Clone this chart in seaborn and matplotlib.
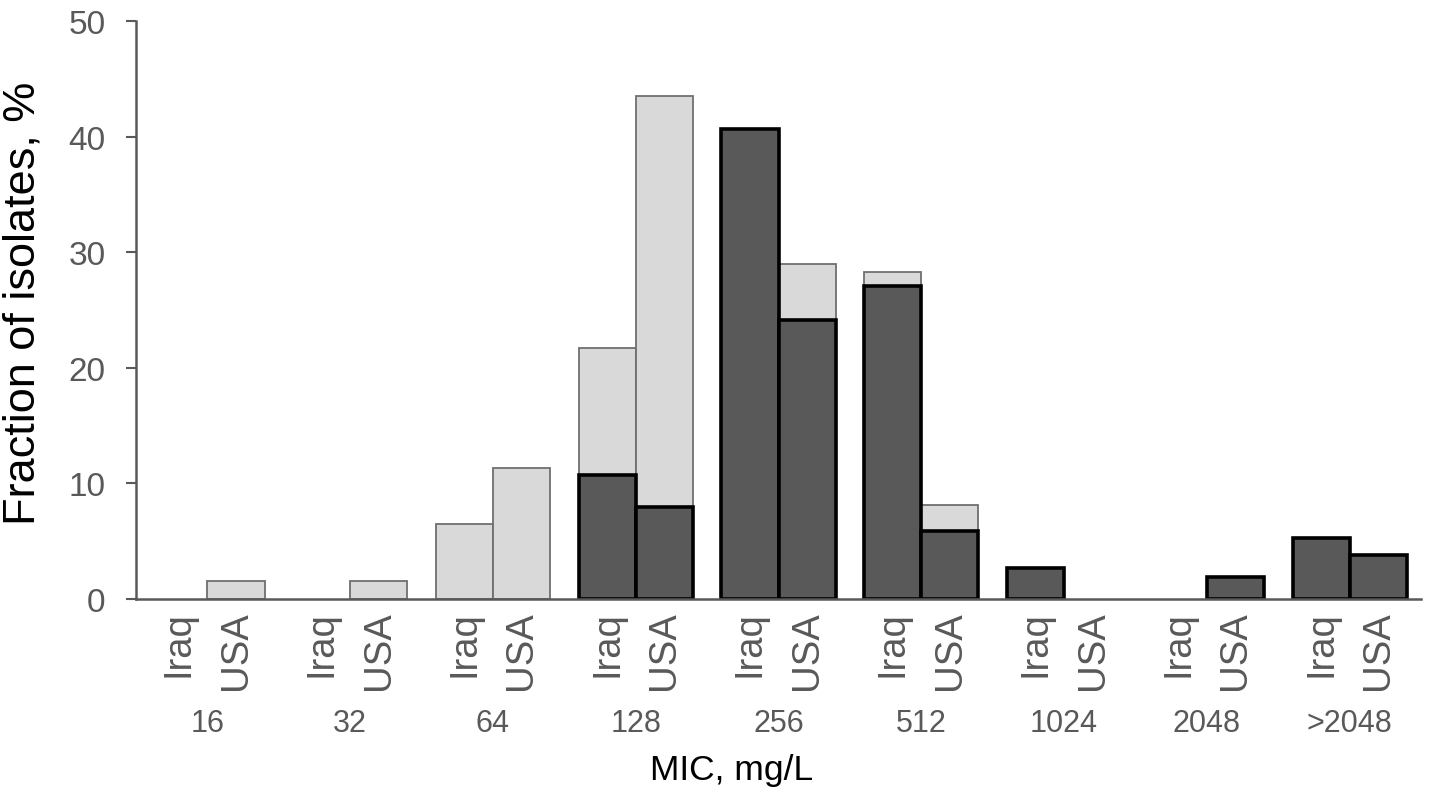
import pandas as pd
import matplotlib
matplotlib.use("Agg")
import matplotlib.pyplot as plt
import seaborn as sns

# MIC groups and country split
mic_levels = ["16", "32", "64", "128", "256", "512", "1024", "2048", ">2048"]
countries = ["Iraq", "USA"]

# light grey series (drawn behind)
light_iraq = [0, 0, 6.5, 21.7, 37.0, 28.3, 0, 0, 0]
light_usa = [1.6, 1.6, 11.3, 43.5, 29.0, 8.1, 0, 0, 0]
# dark grey series (drawn in front)
dark_iraq = [0, 0, 0, 10.7, 40.7, 27.1, 2.7, 0, 5.3]
dark_usa = [0, 0, 0, 8.0, 24.1, 5.9, 0, 1.9, 3.8]

y_ticks = [0, 10, 20, 30, 40, 50]


def long_table(iraq, usa):
    rows = []
    for m, a, b in zip(mic_levels, iraq, usa):
        rows.append({"mic": m, "country": "Iraq", "value": a})
        rows.append({"mic": m, "country": "USA", "value": b})
    df = pd.DataFrame(rows)
    # zero bars are not drawn in the original
    return df[df["value"] > 0]


light_df = long_table(light_iraq, light_usa)
dark_df = long_table(dark_iraq, dark_usa)

sns.set_theme(style="white")
plt.rcParams["font.family"] = ["Liberation Sans", "DejaVu Sans"]

grey_text = "#595959"

fig = plt.figure(figsize=(14.29, 8.03), dpi=100)
W, H = 1429, 803
left, right, top, bottom = 136, 1421, 22, 600
ax = fig.add_axes([left / W, 1 - bottom / H, (right - left) / W, (bottom - top) / H])

sns.barplot(data=light_df, x="mic", y="value", hue="country",
            order=mic_levels, hue_order=countries,
            palette={"Iraq": "#d9d9d9", "USA": "#d9d9d9"},
            edgecolor="#6f6f6f", linewidth=1.3, width=0.8,
            errorbar=None, legend=False, ax=ax)
sns.barplot(data=dark_df, x="mic", y="value", hue="country",
            order=mic_levels, hue_order=countries,
            palette={"Iraq": "#595959", "USA": "#595959"},
            edgecolor="black", linewidth=2.6, width=0.8,
            errorbar=None, legend=False, ax=ax)

ax.set_xlim(-0.5, len(mic_levels) - 0.5)
ax.set_ylim(0, 50)
ax.set_yticks(y_ticks)
ax.tick_params(axis="y", labelsize=24, labelcolor=grey_text, color=grey_text,
               direction="out", length=7, width=1.5, pad=15, left=True)

# country labels under each bar
pos, labs = [], []
for i in range(len(mic_levels)):
    pos += [i - 0.2, i + 0.2]
    labs += countries
ax.set_xticks(pos)
ax.set_xticklabels(labs, rotation=90, fontsize=27.5, color=grey_text)
ax.tick_params(axis="x", length=0, pad=8)

# MIC group labels
for i, m in enumerate(mic_levels):
    ax.text(i, (bottom - 724) / (bottom - top), m, transform=ax.get_xaxis_transform(),
            ha="center", va="center", fontsize=22, color=grey_text)

ax.set_xlabel("")
ax.set_ylabel("")
fig.text(732 / W, 1 - 771 / H, "MIC, mg/L", ha="center", va="center",
         fontsize=25.5, color="black")
fig.text(23 / W, 1 - 303 / H, "Fraction of isolates, %", ha="center", va="center",
         rotation=90, fontsize=32.5, color="black")

sns.despine(ax=ax)
for s in ["left", "bottom"]:
    ax.spines[s].set_color(grey_text)
    ax.spines[s].set_linewidth(1.8)

fig.savefig("out.png", dpi=100)
